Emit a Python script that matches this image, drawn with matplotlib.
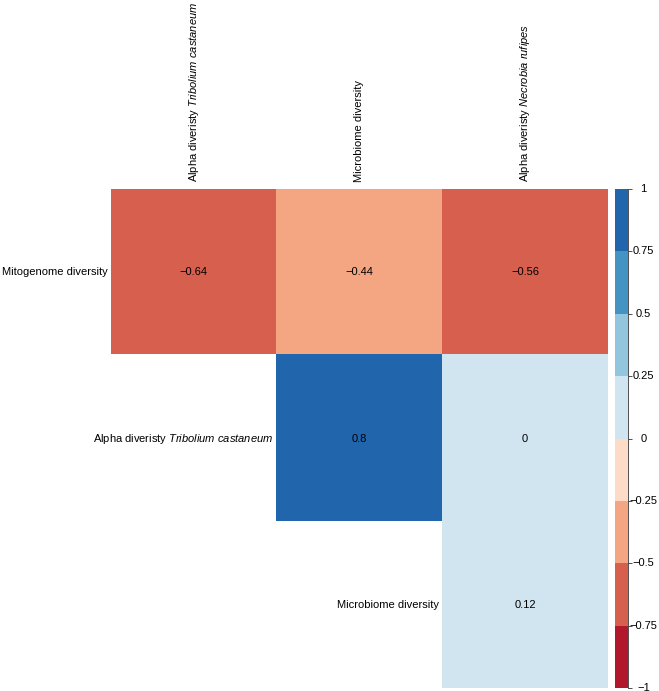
import numpy as np
import matplotlib
matplotlib.use('Agg')
import matplotlib.pyplot as plt
from matplotlib.colors import ListedColormap, BoundaryNorm

plt.rcParams['font.family'] = 'Liberation Sans'
plt.rcParams['mathtext.fontset'] = 'custom'
plt.rcParams['mathtext.rm'] = 'Liberation Sans'
plt.rcParams['mathtext.it'] = 'Liberation Sans:italic'

# labels
row_labels = ['Mitogenome diversity',
              r'Alpha diveristy $\mathit{Tribolium\ castaneum}$',
              'Microbiome diversity']
col_labels = [r'Alpha diveristy $\mathit{Tribolium\ castaneum}$',
              'Microbiome diversity',
              r'Alpha diveristy $\mathit{Necrobia\ rufipes}$']

# upper triangle of correlations (nan = not shown)
row_mito = [-0.64, -0.44, -0.56]
row_tribolium = [np.nan, 0.8, 0.0]
row_microbiome = [np.nan, np.nan, 0.12]

cbar_ticks = [-1, -0.75, -0.5, -0.25, 0, 0.25, 0.5, 0.75, 1]
bin_colors = ['#B2182B', '#D6604D', '#F4A582', '#FDDBC7',
              '#D1E5F0', '#92C5DE', '#4393C3', '#2166AC']

corr = np.array([row_mito, row_tribolium, row_microbiome])
cmap = ListedColormap(bin_colors)
norm = BoundaryNorm(cbar_ticks, cmap.N)

fig = plt.figure(figsize=(6.59, 6.91), dpi=100)
ax = fig.add_axes([111/659, 3/691, 497/659, 499/691])

# a value sitting on a bin edge goes to the upper bin (0 -> light blue)
ax.imshow(np.ma.masked_invalid(corr), cmap=cmap, norm=norm, aspect='auto',
          extent=(-0.5, 2.5, 2.5, -0.5), interpolation='nearest')
ax.set_xlim(-0.5, 2.5)
ax.set_ylim(2.5, -0.5)
ax.axis('off')

for i in range(3):
    for j in range(3):
        if not np.isnan(corr[i, j]):
            v = corr[i, j]
            txt = f'{v:g}'.replace('-', '\u2212')
            ax.text(j, i, txt, ha='center', va='center', fontsize=8, color='black')

for i, lab in enumerate(row_labels):
    ax.text(i - 0.5 - 0.02, i, lab, ha='right', va='center', fontsize=8,
            clip_on=False)

for j, lab in enumerate(col_labels):
    ax.text(j, -0.5 - 0.04, lab, ha='center', va='bottom', rotation=90,
            fontsize=8, clip_on=False)

# discrete colour bar
cax = fig.add_axes([615/659, 3/691, 13/659, 499/691])
for k, c in enumerate(bin_colors):
    cax.axhspan(cbar_ticks[k], cbar_ticks[k + 1], color=c, lw=0)
cax.set_ylim(-1, 1)
cax.set_xlim(0, 1)
cax.set_xticks([])
cax.yaxis.tick_right()
cax.set_yticks(cbar_ticks)
cax.set_yticklabels([])
cax.tick_params(axis='y', length=3, width=0.6, color='#333333')
for side in ['top', 'bottom', 'left']:
    cax.spines[side].set_visible(False)
cax.spines['right'].set_color('#333333')
cax.spines['right'].set_linewidth(0.6)
for t in cbar_ticks:
    cax.text(2.2, t, f'{t:g}'.replace('-', '\u2212'), ha='center', va='center',
             fontsize=8, transform=cax.get_yaxis_transform(), clip_on=False)

fig.savefig('out.png', dpi=100)
